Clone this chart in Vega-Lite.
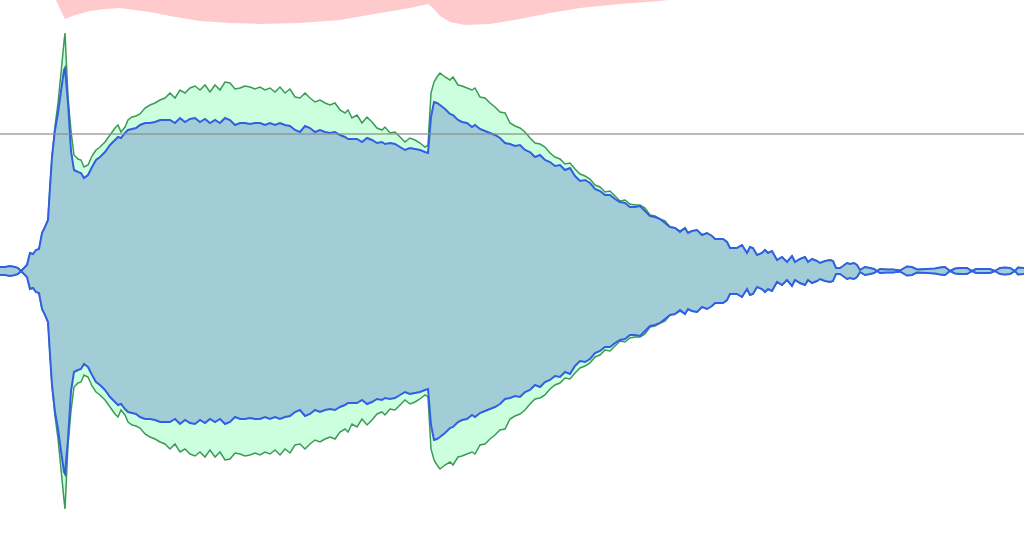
{
  "$schema": "https://vega.github.io/schema/vega-lite/v6.json",
  "width": 1024,
  "height": 541,
  "autosize": {"type": "none"},
  "padding": 0,
  "background": "white",
  "config": {"view": {"stroke": null}},
  "datasets": {
    "wave": [
      {"x":0,"g":4,"b":4},{"x":5,"g":4,"b":4},{"x":10,"g":5,"b":5},{"x":15,"g":4,"b":4},{"x":18,"g":3,"b":3},{"x":21,"g":0,"b":0},{"x":24,"g":3,"b":3},{"x":27,"g":6,"b":6},{"x":30,"g":18,"b":18},{"x":33,"g":17,"b":17},{"x":36,"g":21,"b":21},{"x":39,"g":22,"b":22},{"x":42,"g":38,"b":38},{"x":45,"g":44,"b":44},{"x":48,"g":51,"b":51},{"x":50,"g":84,"b":84},{"x":52,"g":114,"b":114},{"x":55,"g":145,"b":141},{"x":58,"g":168,"b":158},{"x":61,"g":198,"b":180},{"x":64,"g":229,"b":201},{"x":65,"g":238,"b":203},{"x":68,"g":174,"b":168},{"x":71,"g":140,"b":120},{"x":74,"g":116,"b":101},{"x":78,"g":112,"b":99},{"x":81,"g":111,"b":98},{"x":84,"g":104,"b":93},{"x":88,"g":106,"b":96},{"x":92,"g":115,"b":104},{"x":96,"g":121,"b":111},{"x":100,"g":124,"b":114},{"x":105,"g":129,"b":119},{"x":110,"g":136,"b":126},{"x":115,"g":143,"b":131},{"x":118,"g":146,"b":134},{"x":121,"g":139,"b":133},{"x":125,"g":144,"b":138},{"x":128,"g":151,"b":141},{"x":132,"g":154,"b":142},{"x":136,"g":155,"b":143},{"x":140,"g":157,"b":146},{"x":145,"g":163,"b":148},{"x":150,"g":166,"b":148},{"x":155,"g":168,"b":149},{"x":160,"g":171,"b":151},{"x":165,"g":173,"b":151},{"x":170,"g":178,"b":151},{"x":175,"g":173,"b":148},{"x":180,"g":181,"b":153},{"x":185,"g":178,"b":149},{"x":190,"g":183,"b":152},{"x":195,"g":185,"b":153},{"x":200,"g":181,"b":149},{"x":205,"g":186,"b":152},{"x":210,"g":179,"b":148},{"x":215,"g":186,"b":151},{"x":220,"g":181,"b":148},{"x":225,"g":189,"b":153},{"x":230,"g":188,"b":151},{"x":235,"g":182,"b":146},{"x":240,"g":183,"b":148},{"x":245,"g":185,"b":148},{"x":250,"g":184,"b":147},{"x":255,"g":182,"b":148},{"x":260,"g":184,"b":148},{"x":265,"g":181,"b":146},{"x":270,"g":183,"b":148},{"x":275,"g":179,"b":146},{"x":280,"g":184,"b":148},{"x":285,"g":178,"b":146},{"x":290,"g":182,"b":145},{"x":295,"g":174,"b":141},{"x":300,"g":173,"b":139},{"x":305,"g":178,"b":145},{"x":310,"g":173,"b":143},{"x":315,"g":169,"b":139},{"x":320,"g":171,"b":141},{"x":325,"g":168,"b":139},{"x":330,"g":166,"b":138},{"x":335,"g":168,"b":139},{"x":340,"g":161,"b":136},{"x":345,"g":158,"b":134},{"x":348,"g":161,"b":132},{"x":352,"g":153,"b":132},{"x":357,"g":156,"b":132},{"x":362,"g":148,"b":129},{"x":367,"g":154,"b":133},{"x":372,"g":149,"b":131},{"x":377,"g":143,"b":128},{"x":382,"g":141,"b":129},{"x":385,"g":144,"b":127},{"x":390,"g":138,"b":128},{"x":395,"g":139,"b":127},{"x":400,"g":134,"b":124},{"x":405,"g":129,"b":121},{"x":410,"g":133,"b":123},{"x":415,"g":131,"b":122},{"x":420,"g":128,"b":121},{"x":425,"g":124,"b":119},{"x":428,"g":126,"b":118},{"x":431,"g":178,"b":154},{"x":434,"g":189,"b":169},{"x":437,"g":194,"b":168},{"x":440,"g":198,"b":166},{"x":445,"g":194,"b":162},{"x":450,"g":191,"b":157},{"x":453,"g":194,"b":156},{"x":458,"g":186,"b":151},{"x":462,"g":185,"b":149},{"x":467,"g":183,"b":148},{"x":472,"g":181,"b":144},{"x":475,"g":183,"b":146},{"x":480,"g":174,"b":142},{"x":485,"g":173,"b":140},{"x":490,"g":168,"b":138},{"x":495,"g":164,"b":136},{"x":500,"g":159,"b":133},{"x":505,"g":158,"b":128},{"x":510,"g":148,"b":127},{"x":515,"g":145,"b":125},{"x":520,"g":143,"b":126},{"x":525,"g":139,"b":121},{"x":530,"g":133,"b":119},{"x":535,"g":128,"b":114},{"x":540,"g":127,"b":116},{"x":545,"g":124,"b":111},{"x":550,"g":118,"b":109},{"x":555,"g":114,"b":105},{"x":560,"g":112,"b":106},{"x":565,"g":107,"b":101},{"x":570,"g":108,"b":103},{"x":575,"g":102,"b":95},{"x":580,"g":97,"b":90},{"x":585,"g":95,"b":91},{"x":590,"g":92,"b":88},{"x":595,"g":86,"b":82},{"x":600,"g":84,"b":80},{"x":605,"g":79,"b":76},{"x":610,"g":80,"b":76},{"x":615,"g":75,"b":72},{"x":620,"g":70,"b":69},{"x":625,"g":71,"b":68},{"x":630,"g":67,"b":64},{"x":635,"g":66,"b":64},{"x":640,"g":66,"b":65},{"x":645,"g":63,"b":60},{"x":650,"g":56,"b":55},{"x":655,"g":55,"b":54},{"x":660,"g":52,"b":52},{"x":665,"g":50,"b":48},{"x":670,"g":44,"b":44},{"x":675,"g":43,"b":43},{"x":680,"g":40,"b":39},{"x":685,"g":43,"b":43},{"x":688,"g":38,"b":38},{"x":692,"g":40,"b":40},{"x":697,"g":41,"b":41},{"x":702,"g":36,"b":36},{"x":707,"g":38,"b":38},{"x":712,"g":35,"b":35},{"x":715,"g":32,"b":32},{"x":723,"g":32,"b":32},{"x":727,"g":29,"b":29},{"x":730,"g":23,"b":23},{"x":737,"g":23,"b":23},{"x":742,"g":26,"b":26},{"x":747,"g":18,"b":18},{"x":750,"g":24,"b":24},{"x":753,"g":23,"b":23},{"x":757,"g":16,"b":16},{"x":762,"g":18,"b":18},{"x":765,"g":21,"b":21},{"x":768,"g":18,"b":18},{"x":772,"g":20,"b":20},{"x":777,"g":11,"b":11},{"x":782,"g":14,"b":14},{"x":787,"g":9,"b":9},{"x":792,"g":15,"b":15},{"x":795,"g":9,"b":9},{"x":800,"g":12,"b":12},{"x":805,"g":14,"b":14},{"x":808,"g":9,"b":9},{"x":812,"g":12,"b":12},{"x":817,"g":10,"b":10},{"x":820,"g":8,"b":8},{"x":825,"g":10,"b":10},{"x":830,"g":11,"b":11},{"x":833,"g":10,"b":10},{"x":836,"g":3,"b":3},{"x":840,"g":3,"b":3},{"x":843,"g":5,"b":5},{"x":847,"g":8,"b":8},{"x":850,"g":7,"b":7},{"x":854,"g":8,"b":8},{"x":857,"g":6,"b":6},{"x":860,"g":1,"b":1},{"x":865,"g":4,"b":4},{"x":870,"g":3,"b":3},{"x":874,"g":2,"b":2},{"x":877,"g":0,"b":0},{"x":880,"g":2,"b":2},{"x":887,"g":1.5,"b":1.5},{"x":893,"g":1.5,"b":1.5},{"x":900,"g":0.5,"b":0.5},{"x":907,"g":4.5,"b":4.5},{"x":912,"g":4,"b":4},{"x":917,"g":1.5,"b":1.5},{"x":927,"g":2,"b":2},{"x":935,"g":2.5,"b":2.5},{"x":940,"g":3.5,"b":3.5},{"x":945,"g":4,"b":4},{"x":950,"g":0,"b":0},{"x":955,"g":2.5,"b":2.5},{"x":960,"g":3,"b":3},{"x":967,"g":3,"b":3},{"x":972,"g":0,"b":0},{"x":976,"g":2,"b":2},{"x":985,"g":2,"b":2},{"x":990,"g":2,"b":2},{"x":995,"g":0,"b":0},{"x":1000,"g":3,"b":3},{"x":1005,"g":3.5,"b":3.5},{"x":1010,"g":3,"b":3},{"x":1015,"g":0,"b":0},{"x":1018,"g":3.5,"b":3.5},{"x":1024,"g":3,"b":3}
    ],
    "pink": [
      {"x":56,"p":271},{"x":60,"p":262},{"x":65,"p":252},{"x":75,"p":256},{"x":90,"p":260},{"x":105,"p":262},{"x":120,"p":263},{"x":135,"p":261},{"x":150,"p":259},{"x":170,"p":255},{"x":200,"p":250},{"x":230,"p":248},{"x":260,"p":247},{"x":300,"p":248},{"x":340,"p":251},{"x":380,"p":258},{"x":410,"p":263},{"x":428,"p":267},{"x":432,"p":264},{"x":440,"p":255},{"x":450,"p":249},{"x":465,"p":246},{"x":490,"p":247},{"x":520,"p":252},{"x":550,"p":258},{"x":580,"p":263},{"x":620,"p":267},{"x":660,"p":270},{"x":668,"p":271}
    ]
  },
  "layer": [
    {
      "data": {"name": "pink"},
      "mark": {"type": "area", "fill": "#ffcacc", "opacity": 1, "clip": true},
      "encoding": {
        "x": {"field": "x", "type": "quantitative", "scale": {"domain": [0, 1024], "nice": false, "zero": false}, "axis": null},
        "y": {"field": "p", "type": "quantitative", "scale": {"domain": [-270, 271], "nice": false, "zero": false}, "axis": null},
        "y2": {"datum": 400}
      }
    },
    {
      "data": {"name": "wave"},
      "mark": {"type": "area", "color": "#ccffdd", "opacity": 1, "line": {"color": "#3b9a56", "strokeWidth": 1.5}},
      "encoding": {
        "x": {"field": "x", "type": "quantitative", "scale": {"domain": [0, 1024], "nice": false, "zero": false}, "axis": null},
        "y": {"field": "g", "type": "quantitative", "scale": {"domain": [-270, 271], "nice": false, "zero": false}, "axis": null},
        "y2": {"datum": 0}
      }
    },
    {
      "data": {"name": "wave"},
      "mark": {"type": "area", "color": "#ccffdd", "opacity": 1, "line": {"color": "#3b9a56", "strokeWidth": 1.5}},
      "encoding": {
        "x": {"field": "x", "type": "quantitative", "scale": {"domain": [0, 1024], "nice": false, "zero": false}, "axis": null},
        "y": {"field": "g", "type": "quantitative", "scale": {"domain": [-271, 270], "reverse": true, "nice": false, "zero": false}, "axis": null},
        "y2": {"datum": 0}
      }
    },
    {
      "data": {"name": "wave"},
      "mark": {"type": "area", "color": "#a3cdd6", "opacity": 1, "line": {"color": "#2f5fe3", "strokeWidth": 2}},
      "encoding": {
        "x": {"field": "x", "type": "quantitative", "scale": {"domain": [0, 1024], "nice": false, "zero": false}, "axis": null},
        "y": {"field": "b", "type": "quantitative", "scale": {"domain": [-270, 271], "nice": false, "zero": false}, "axis": null},
        "y2": {"datum": 0}
      }
    },
    {
      "data": {"name": "wave"},
      "mark": {"type": "area", "color": "#a3cdd6", "opacity": 1, "line": {"color": "#2f5fe3", "strokeWidth": 2}},
      "encoding": {
        "x": {"field": "x", "type": "quantitative", "scale": {"domain": [0, 1024], "nice": false, "zero": false}, "axis": null},
        "y": {"field": "b", "type": "quantitative", "scale": {"domain": [-271, 270], "reverse": true, "nice": false, "zero": false}, "axis": null},
        "y2": {"datum": 0}
      }
    },
    {
      "data": {"values": [{"level": 137}]},
      "mark": {"type": "rule", "color": "#8c8c8c", "strokeWidth": 2, "opacity": 0.6},
      "encoding": {
        "y": {"field": "level", "type": "quantitative", "scale": {"domain": [-270, 271], "nice": false, "zero": false}, "axis": null}
      }
    }
  ],
  "resolve": {"scale": {"y": "independent"}}
}
